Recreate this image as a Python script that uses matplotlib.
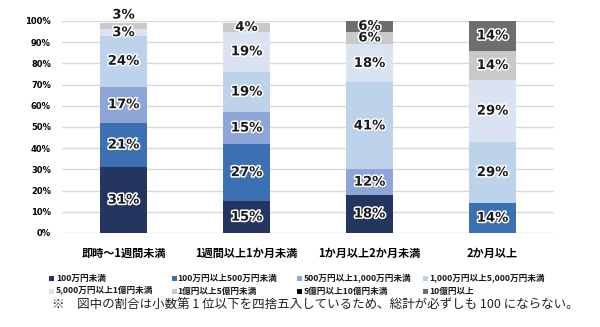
import matplotlib
matplotlib.use("Agg")
import matplotlib.pyplot as plt
import matplotlib.patheffects as pe
from matplotlib.patches import Rectangle
import numpy as np

plt.rcParams['font.family'] = ['Noto Sans CJK JP', 'DejaVu Sans']

categories = ['即時～1週間未満', '1週間以上1か月未満', '1か月以上2か月未満', '2か月以上']
series_names = ['100万円未満', '100万円以上500万円未満', '500万円以上1,000万円未満',
                '1,000万円以上5,000万円未満', '5,000万円以上1億円未満', '1億円以上5億円未満',
                '5億円以上10億円未満', '10億円以上']
s_lt100 = [31, 15, 18, 0]
s_100_500 = [21, 27, 0, 14]
s_500_1000 = [17, 15, 12, 0]
s_1000_5000 = [24, 19, 41, 29]
s_5000_1oku = [3, 19, 18, 29]
s_1_5oku = [3, 4, 6, 14]
s_5_10oku = [0, 0, 0, 0]
s_10oku = [0, 0, 6, 14]
series = [s_lt100, s_100_500, s_500_1000, s_1000_5000, s_5000_1oku, s_1_5oku, s_5_10oku, s_10oku]
yticks = [0, 10, 20, 30, 40, 50, 60, 70, 80, 90, 100]
footnote = '※　図中の割合は小数第 1 位以下を四捨五入しているため、総計が必ずしも 100 にならない。'

colors = ['#24365f', '#3b70b2', '#8ea6d7', '#bdd2eb', '#dbe3f2', '#c9c9c9', '#000000', '#6f6d6d']

fig = plt.figure(figsize=(6, 3.27), dpi=100)
ax = fig.add_axes([62/600, 1-233/327, (554-62)/600, (233-21)/327])

x = np.arange(len(categories))
totals = np.sum(np.array(series, dtype=float), axis=0)
bottom = np.zeros(len(categories))
stroke = [pe.withStroke(linewidth=2.2, foreground='white')]
for vals, col in zip(series, colors):
    v = np.array(vals, dtype=float)
    ax.bar(x, v, bottom=bottom, width=0.39, color=col, zorder=2)
    for i, val in enumerate(v):
        if val > 0:
            top = bottom[i] + val
            yc = bottom[i] + val / 2
            if top > 100:
                yc = (bottom[i] + 100) / 2
            if val <= 3 and top >= totals[i]:
                yc = 102.8  # small top segment: label sits above the bar
            ax.text(x[i], yc, f'{int(val)}%', ha='center', va='center', fontsize=9.5,
                    fontweight='bold', color='#1a1a1a', family='DejaVu Sans',
                    path_effects=stroke, zorder=4, clip_on=False)
    bottom += v

ax.set_xlim(-0.5, len(categories) - 0.5)
ax.set_ylim(0, 100)
ax.set_yticks(yticks)
ax.set_yticklabels([f'{t}%' for t in yticks], fontsize=6, fontweight='bold', family='DejaVu Sans')
ax.set_xticks(x)
ax.set_xticklabels(categories, fontsize=8, fontweight='bold')
ax.tick_params(axis='both', length=0)
ax.tick_params(axis='y', pad=8)
ax.tick_params(axis='x', pad=10)
ax.grid(axis='y', color='#d9d9d9', linewidth=1, zorder=0)
for s in ax.spines.values():
    s.set_visible(False)

# legend
col_marker = [49, 172, 297, 423]
col_text = [56, 177, 304, 429]
row_y = [278, 291]
for k, (name, col) in enumerate(zip(series_names, colors)):
    r, c = divmod(k, 4)
    mx = col_marker[c] / 600
    my = 1 - row_y[r] / 327
    fig.add_artist(Rectangle((mx, my - 2.5/327), 5/600, 5/327, transform=fig.transFigure,
                             facecolor=col, edgecolor='none'))
    fig.text(col_text[c] / 600, my, name, fontsize=6.2, fontweight='bold', va='center', ha='left',
             color='#1a1a1a')

fig.text(52/600, 1 - 305/327, footnote, fontsize=9.0, va='center', ha='left', color='#222222')

fig.savefig('out.png', dpi=100)
